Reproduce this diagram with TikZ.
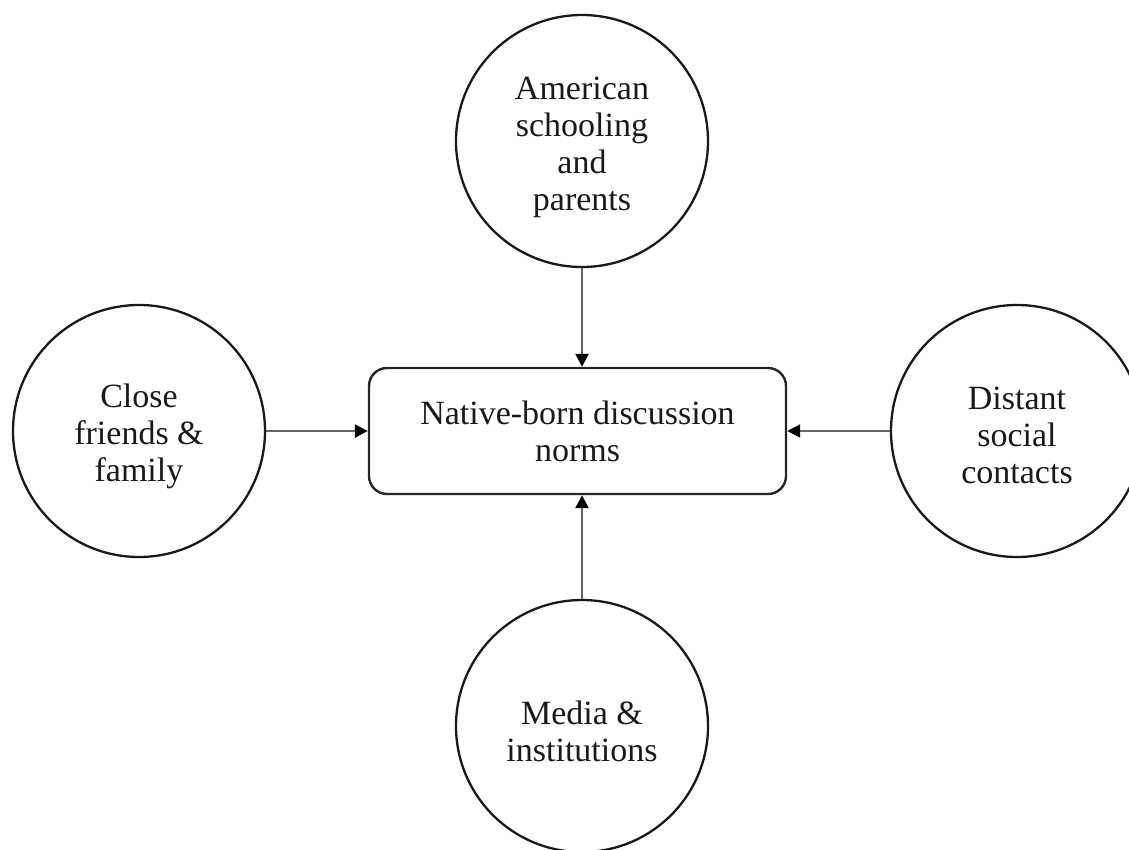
\documentclass[tikz,border=0pt]{standalone}
\usepackage{fontspec}
\setmainfont{Liberation Serif}
\usetikzlibrary{arrows.meta}
\begin{document}
\begin{tikzpicture}[x=1pt,y=-1pt,
  txt/.style={font=\fontsize{34}{37}\selectfont, align=center, text=black!90, inner sep=0pt},
  bubble/.style={circle, draw=black!90, line width=2.3pt, minimum size=252pt, inner sep=0pt},
  core/.style={rectangle, draw=black!85, line width=2.4pt, rounded corners=18pt, minimum width=417pt, minimum height=126pt, inner sep=0pt, txt},
  link/.style={draw=black!60, line width=2.4pt, -{Triangle[length=13pt,width=13pt,color=black,fill=black]}}
]
\useasboundingbox (0,0) rectangle (1129,849);
\node[core] (box) at (577.5,431) {Native-born discussion\\norms};
\node[bubble] (top) at (582,141) {};
\node[bubble] (left) at (139,431) {};
\node[bubble] (right) at (1017,431) {};
\node[bubble] (bottom) at (582,726) {};
\node[txt] (topT) at ([yshift=-6pt]top.center) {American\\schooling\\and\\parents};
\node[txt] (leftT) at ([yshift=-5pt]left.center) {Close\\friends \&\\family};
\node[txt] (rightT) at ([yshift=-4pt]right.center) {Distant\\social\\contacts};
\node[txt] (bottomT) at ([yshift=-5pt]bottom.center) {Media \&\\institutions};
\draw[link] (top.south) -- (top |- box.north);
\draw[link] (left.east) -- (left -| box.west);
\draw[link] (right.west) -- (right -| box.east);
\draw[link] (bottom.north) -- (bottom |- box.south);
\end{tikzpicture}
\end{document}
